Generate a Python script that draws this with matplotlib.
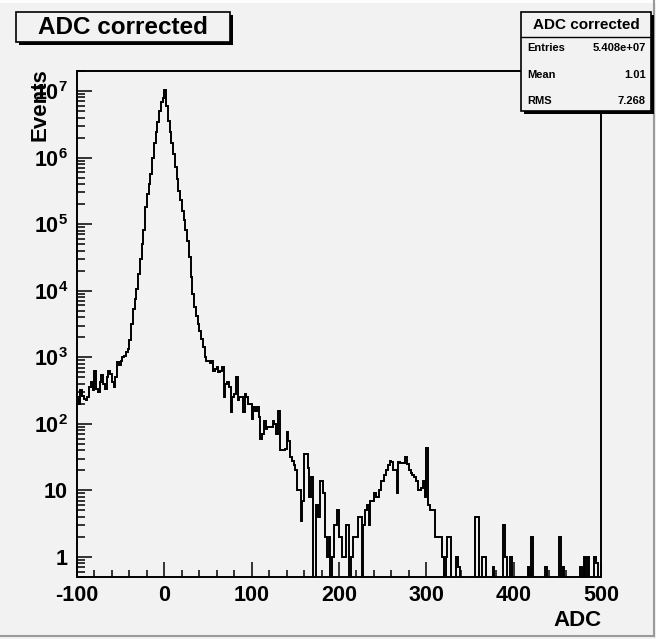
import numpy as np
import matplotlib
matplotlib.use("Agg")
import matplotlib.pyplot as plt
from matplotlib.patches import Rectangle
from matplotlib.ticker import LogLocator, MultipleLocator, FuncFormatter, NullFormatter

# histogram: 300 bins of width 2 from -100 to 500
bin_lo, bin_hi, bin_w = -100, 500, 2

# bins -100 .. -44 (left pedestal tail)
counts_left = [250, 200, 320, 260, 240, 230, 250, 355, 420, 320,
               630, 330, 300, 420, 540, 400, 330, 500, 630, 560,
               420, 355, 500, 850, 760, 890, 1000, 1050]
# bins -44 .. 50 (main peak)
counts_peak = [1200, 1320, 1820, 3160, 5250, 7590, 1.05e4, 1.78e4, 3.02e4, 5.0e4,
               8.3e4, 1.78e5, 2.82e5, 3.98e5, 5.75e5, 1.0e6, 1.66e6, 2.4e6, 3.47e6, 5.0e6,
               6.9e6, 7.9e6, 1.05e7, 6.0e6, 3.6e6, 2.4e6, 1.66e6, 1.12e6, 7.2e5, 4.8e5,
               3.16e5, 2.3e5, 1.58e5, 1.15e5, 8.3e4, 5.5e4, 3.16e4, 1.58e4, 8900, 5750,
               4170, 3160, 2510, 1900, 1410, 1000, 890]
# bins 50 .. 240 (right tail)
counts_tail = [890, 830, 890, 630, 660, 710, 600, 630, 710, 250,
               400, 420, 355, 150, 250, 280, 500, 225, 250, 250,
               150, 280, 250, 200, 200, 120, 178, 158, 178, 126,
               60, 71, 112, 83, 89, 89, 89, 112, 100, 71,
               158, 40, 40, 40, 42, 76, 56, 32, 28, 24,
               20, 10, 10, 3.5, 7, 35, 35, 22, 8, 16,
               0, 0, 6, 4, 14, 14, 9, 2, 1, 2,
               0, 1, 3, 3, 5, 2, 2, 1, 1, 3,
               3, 0, 1, 2, 2, 2, 4, 4, 0, 3,
               5, 6, 3, 7, 7]
# bins 240 .. 500 (second bump and sparse entries)
counts_high = [9, 8, 8, 10, 14, 14, 17, 20, 24, 28,
               27, 20, 20, 9, 27, 26, 26, 26, 32, 25,
               20, 18, 17, 16, 14, 10, 10, 11, 14, 8,
               44, 6, 5, 5, 5, 2, 2, 2, 2, 1,
               0, 1, 2, 2, 0, 0, 0, 1, 0.7, 0,
               0, 0, 0, 0, 0, 0, 0, 0, 4, 4,
               0, 0, 1, 1, 0, 0, 0, 0, 0.7, 0,
               0, 0, 0, 0, 3, 1, 0, 0, 1, 0,
               0, 0, 0, 0, 0, 0, 0, 0, 0.7, 0,
               2, 0, 0, 0, 0, 0, 0, 0, 0.7, 0,
               0, 0, 0, 0, 0, 0, 2, 0, 0.7, 0,
               0, 0, 0, 0, 0, 0, 0, 0, 0.7, 0,
               1, 0, 1, 0, 0, 0, 1, 0.8, 0, 0]

x_ticks = [-100, 0, 100, 200, 300, 400, 500]
stats_rows = [("Entries", "5.408e+07"), ("Mean", "1.01"), ("RMS", "7.268")]
title = "ADC corrected"

counts = np.array(counts_left + counts_peak + counts_tail + counts_high, dtype=float)
edges = np.arange(bin_lo, bin_hi + bin_w, bin_w)

plt.rcParams["font.family"] = ["Liberation Sans", "DejaVu Sans"]
plt.rcParams["font.weight"] = "bold"
plt.rcParams["mathtext.fontset"] = "custom"
plt.rcParams["mathtext.rm"] = "Liberation Sans:bold"
plt.rcParams["mathtext.bf"] = "Liberation Sans:bold"
plt.rcParams["mathtext.it"] = "Liberation Sans:bold"

W, H = 656, 639
bg = "#f2f2f2"


def fx(px):
    return px / W


def fy(py):
    return 1 - py / H


fig = plt.figure(figsize=(W / 100, H / 100), dpi=100, facecolor=bg)
ax = fig.add_axes([fx(77), fy(577), (601 - 77) / W, (577 - 71) / H])
ax.set_facecolor(bg)

ax.stairs(counts, edges, baseline=None, color="black", lw=1.4)
ax.set_yscale("log")
ax.set_xlim(bin_lo, bin_hi)
ax.set_ylim(0.5, 2.0e7)

ax.set_xticks(x_ticks)
ax.set_xticklabels([str(t) for t in x_ticks])
ax.xaxis.set_minor_locator(MultipleLocator(20))
ax.yaxis.set_major_locator(LogLocator(base=10, numticks=20))
ax.yaxis.set_minor_locator(LogLocator(base=10, subs=np.arange(2, 10) * 1.0, numticks=20))
ax.yaxis.set_minor_formatter(NullFormatter())


def ylab(v, pos):
    e = int(round(np.log10(v)))
    if e == 0:
        return "1"
    if e == 1:
        return "10"
    return r"$\mathbf{10^{%d}}$" % e


ax.yaxis.set_major_formatter(FuncFormatter(ylab))
ax.tick_params(which="both", direction="in", top=False, right=False, width=1.1)
ax.tick_params(which="major", length=10.8, labelsize=15.5)
ax.tick_params(which="minor", length=5.4)
ax.tick_params(axis="x", pad=5.5)
ax.tick_params(axis="y", pad=6.5)
for s in ax.spines.values():
    s.set_linewidth(1.4)

fig.text(fx(40), fy(68), "Events", rotation=90, ha="center", va="top",
         fontsize=16, fontweight="bold")
fig.text(fx(602), fy(620), "ADC", ha="right", va="center",
         fontsize=16, fontweight="bold")


def box(x0, y0, x1, y1):
    sh = Rectangle((fx(x0 + 3), fy(y1 + 3)), (x1 - x0) / W, (y1 - y0) / H,
                   transform=fig.transFigure, facecolor="black", edgecolor="black",
                   lw=0, zorder=5)
    fr = Rectangle((fx(x0), fy(y1)), (x1 - x0) / W, (y1 - y0) / H,
                   transform=fig.transFigure, facecolor=bg, edgecolor="black",
                   lw=1.2, zorder=6)
    fig.add_artist(sh)
    fig.add_artist(fr)


# title box
box(16, 12, 230, 42)
fig.text(fx(123), fy(28), title, ha="center", va="center", fontsize=17.5,
         fontweight="bold", zorder=7)

# stats box
box(521, 12, 651, 111)
fig.add_artist(plt.Line2D([fx(521), fx(651)], [fy(37), fy(37)],
                          transform=fig.transFigure, color="black", lw=1.0, zorder=7))
fig.text(fx(586), fy(25), title, ha="center", va="center", fontsize=11,
         fontweight="bold", zorder=7)
for i, (name, val) in enumerate(stats_rows):
    yy = 48 + i * 26.5
    fig.text(fx(527), fy(yy), name, ha="left", va="center", fontsize=8,
             fontweight="bold", zorder=7)
    fig.text(fx(646), fy(yy), val, ha="right", va="center", fontsize=8,
             fontweight="bold", zorder=7)

# canvas border
fig.add_artist(plt.Line2D([0, 1], [fy(1), fy(1)], transform=fig.transFigure,
                          color="white", lw=2))
fig.add_artist(plt.Line2D([0, fx(654)], [fy(636), fy(636)], transform=fig.transFigure,
                          color="#9a9a9a", lw=1.5))
fig.add_artist(plt.Line2D([fx(654), fx(654)], [fy(0), fy(636)], transform=fig.transFigure,
                          color="#9a9a9a", lw=1.5))

fig.savefig("out.png", dpi=100, facecolor=bg)
